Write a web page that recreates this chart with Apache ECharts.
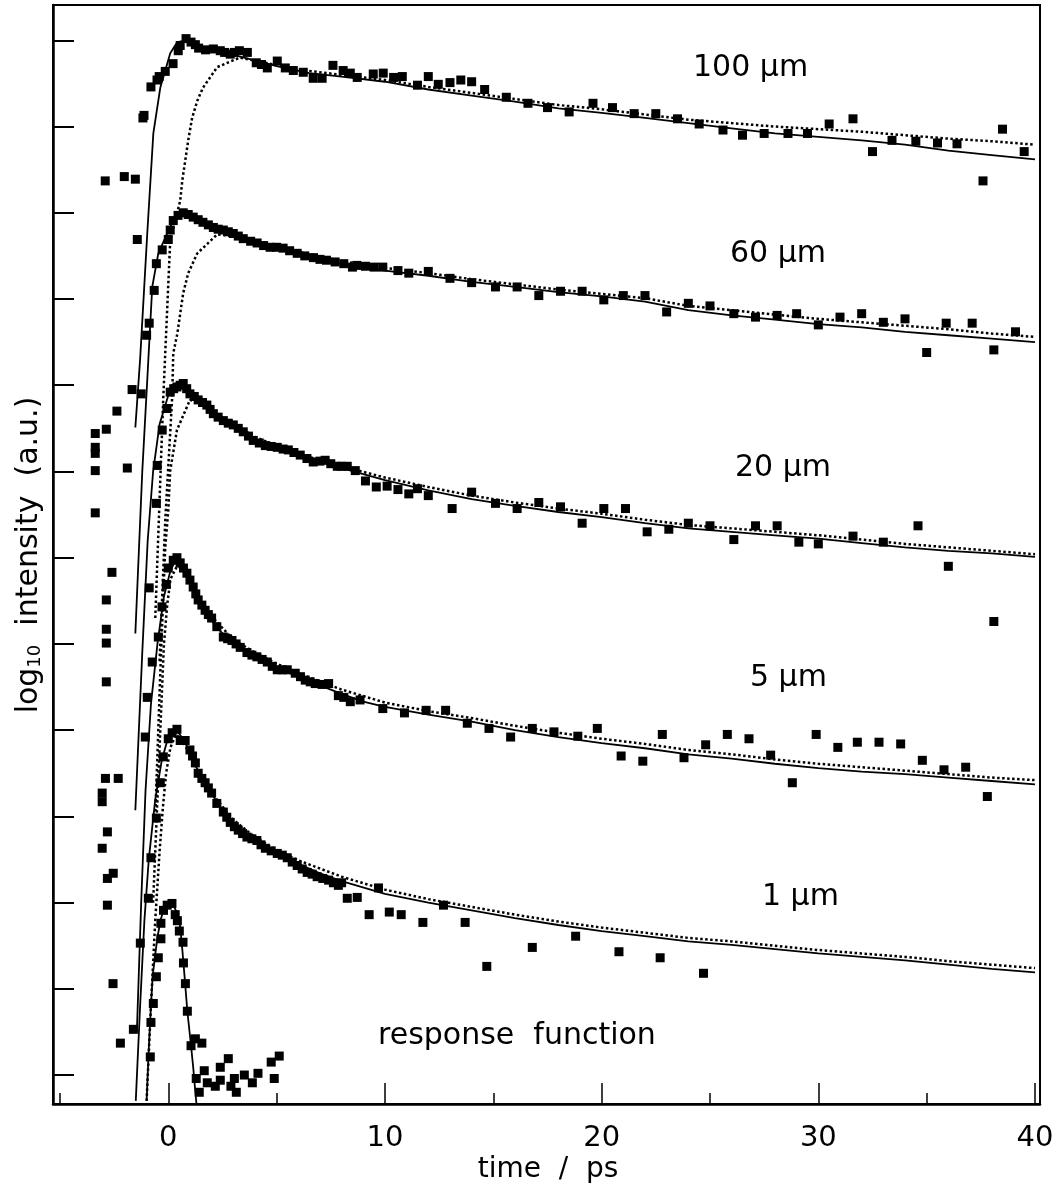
<!DOCTYPE html>
<html><head><meta charset="utf-8">
<script src="https://cdn.jsdelivr.net/npm/echarts@6/dist/echarts.min.js"></script>
<style>html,body{margin:0;padding:0;background:#fff}#c{width:1063px;height:1191px}</style>
</head><body><div id="c"></div>
<script>
// axis ticks
const xTicksMajor = [0, 10, 20, 30, 40];
const xTicksMinor = [-5, 5, 15, 25, 35];
const yTicks = [0, 1, 2, 3, 4, 5, 6, 7, 8, 9, 10, 11, 12];
const curveLabels = ['100 µm', '60 µm', '20 µm', '5 µm', '1 µm', 'response  function'];
const xTitle = 'time  /  ps';

// ---- 100 µm ----
const data100 = [[-2.91,10.37],[-2.03,10.42],[-1.52,10.39],[-1.17,11.1],[-1.12,11.13],[-0.8,11.46],[-0.52,11.54],[-0.42,11.58],[-0.14,11.64],[0.22,11.73],[0.46,11.88],[0.55,11.94],[0.82,12.02],[1.05,11.98],[1.25,11.95],[1.4,11.91],[1.72,11.89],[2.08,11.9],[2.4,11.88],[2.6,11.86],[2.86,11.84],[3.05,11.86],[3.28,11.88],[3.65,11.86],[4.06,11.74],[4.3,11.72],[4.57,11.68],[5.03,11.76],[5.4,11.68],[5.77,11.65],[6.23,11.63],[6.69,11.56],[7.1,11.56],[7.6,11.71],[8.07,11.65],[8.4,11.62],[8.72,11.57],[9.46,11.61],[9.92,11.62],[10.4,11.57],[10.8,11.58],[11.5,11.48],[12.0,11.58],[12.46,11.49],[13.0,11.51],[13.5,11.54],[14.0,11.52],[14.6,11.43],[15.6,11.34],[16.6,11.27],[17.5,11.22],[18.5,11.17],[19.6,11.27],[20.5,11.22],[21.5,11.15],[22.5,11.15],[23.5,11.09],[24.5,11.03],[25.6,10.96],[26.5,10.9],[27.5,10.92],[28.6,10.92],[29.5,10.92],[30.5,11.03],[31.6,11.09],[32.5,10.71],[33.4,10.84],[34.5,10.83],[35.5,10.81],[36.4,10.8],[37.6,10.37],[38.5,10.97],[39.5,10.71]];
const fit100 = [[-1.52,7.51],[-1.3,8.3],[-0.97,9.76],[-0.69,10.92],[-0.37,11.45],[0.09,11.85],[0.42,11.98],[0.8,12.0],[1.5,11.93],[2.5,11.86],[3.5,11.8],[5,11.7],[6.5,11.62],[8,11.58],[10,11.52],[12,11.43],[14,11.36],[16,11.29],[18,11.21],[20,11.16],[22,11.1],[24,11.04],[26,10.98],[28,10.92],[30,10.88],[32,10.84],[34,10.79],[36,10.72],[38,10.67],[40,10.62]];
const dot100 = [[-0.6,5.3],[-0.23,7.86],[0.09,9.68],[0.55,10.14],[0.65,10.38],[0.78,10.6],[0.92,10.84],[1.1,11.1],[1.34,11.3],[1.6,11.45],[2.26,11.69],[3.3,11.8],[4.5,11.74],[6,11.66],[8,11.6],[10,11.54],[12,11.46],[14,11.39],[16,11.32],[18,11.25],[20,11.2],[22,11.14],[24,11.08],[26,11.04],[28,11.0],[30,10.97],[32,10.94],[34,10.9],[36,10.86],[38,10.83],[40,10.79]];

// ---- 60 µm ----
const data60 = [[-1.43,9.69],[-1.0,8.58],[-0.88,8.72],[-0.65,9.1],[-0.55,9.41],[-0.28,9.57],[0.0,9.69],[0.09,9.8],[0.23,9.91],[0.45,9.97],[0.69,10.0],[0.92,9.98],[1.15,9.95],[1.38,9.92],[1.6,9.89],[1.85,9.86],[2.08,9.83],[2.3,9.81],[2.54,9.8],[2.77,9.78],[3.0,9.76],[3.23,9.73],[3.46,9.7],[3.8,9.67],[4.1,9.65],[4.4,9.62],[4.7,9.6],[5.0,9.6],[5.3,9.59],[5.6,9.56],[5.95,9.53],[6.3,9.5],[6.7,9.48],[7.0,9.46],[7.3,9.45],[7.7,9.43],[8.1,9.41],[8.5,9.37],[8.7,9.39],[9.1,9.38],[9.5,9.37],[9.9,9.37],[10.6,9.33],[11.1,9.3],[12.0,9.32],[13.0,9.24],[14.0,9.19],[15.1,9.14],[16.1,9.14],[17.1,9.04],[18.1,9.09],[19.1,9.09],[20.1,8.99],[21.0,9.04],[22.0,9.04],[23.0,8.85],[24.0,8.95],[25.0,8.92],[26.1,8.83],[27.1,8.79],[28.1,8.81],[29.0,8.83],[30.0,8.7],[31.0,8.79],[32.0,8.83],[33.0,8.73],[34.0,8.77],[35.0,8.38],[35.9,8.72],[37.1,8.72],[38.1,8.41],[39.1,8.62]];
const fit60 = [[-1.52,5.12],[-1.2,7.0],[-0.97,8.06],[-0.74,9.14],[-0.46,9.53],[-0.05,9.76],[0.23,9.91],[0.65,10.0],[1.5,9.9],[2.5,9.8],[3.5,9.7],[5,9.59],[6.5,9.49],[8,9.41],[10,9.33],[12,9.27],[14,9.2],[16,9.14],[18,9.08],[20,9.03],[22,8.97],[24,8.87],[26,8.81],[28,8.76],[30,8.71],[32,8.67],[34,8.62],[36,8.58],[38,8.54],[40,8.5]];
const dot60 = [[-0.4,4.8],[-0.14,6.43],[0.1,7.5],[0.18,7.86],[0.23,8.37],[0.42,8.6],[0.55,8.83],[0.69,9.07],[0.92,9.3],[1.34,9.53],[2.26,9.75],[3.3,9.72],[4.5,9.64],[6.5,9.52],[8,9.44],[10,9.36],[12,9.3],[14,9.23],[16,9.17],[18,9.11],[20,9.06],[22,9.01],[24,8.92],[26,8.87],[28,8.82],[30,8.77],[32,8.73],[34,8.69],[36,8.65],[38,8.6],[40,8.56]];

// ---- 20 µm ----
const data20 = [[-3.37,7.44],[-3.37,7.28],[-3.37,7.21],[-3.37,7.01],[-3.37,6.52],[-2.86,7.49],[-2.37,7.7],[-1.89,7.04],[-1.67,7.95],[-1.25,7.9],[-0.55,6.63],[-0.51,7.07],[-0.28,7.48],[-0.06,7.73],[0.09,7.92],[0.25,7.96],[0.4,7.98],[0.55,8.0],[0.69,8.02],[0.85,7.96],[1.0,7.9],[1.2,7.87],[1.38,7.83],[1.58,7.8],[1.78,7.77],[1.93,7.72],[2.08,7.67],[2.3,7.63],[2.54,7.59],[2.77,7.56],[3.0,7.54],[3.23,7.5],[3.46,7.46],[3.7,7.41],[3.92,7.36],[4.2,7.33],[4.48,7.3],[4.75,7.29],[5.03,7.28],[5.3,7.26],[5.54,7.25],[5.8,7.22],[6.09,7.19],[6.4,7.15],[6.69,7.11],[7.0,7.12],[7.24,7.13],[7.5,7.09],[7.8,7.06],[8.0,7.06],[8.26,7.06],[8.63,7.01],[9.1,6.89],[9.6,6.82],[10.1,6.83],[10.6,6.79],[11.1,6.74],[11.5,6.8],[12.0,6.72],[13.1,6.57],[14.0,6.76],[15.1,6.63],[16.1,6.57],[17.1,6.64],[18.1,6.59],[19.1,6.4],[20.1,6.57],[21.1,6.57],[22.1,6.3],[23.1,6.33],[24.0,6.4],[25.0,6.37],[26.1,6.21],[27.1,6.37],[28.1,6.37],[29.1,6.18],[30.0,6.16],[31.6,6.25],[33.0,6.18],[34.6,6.37],[36.0,5.9],[38.1,5.26]];
const fit20 = [[-1.52,3.07],[-1.2,4.9],[-0.95,6.2],[-0.7,7.0],[-0.4,7.55],[0,7.88],[0.5,8.0],[1.0,7.92],[1.5,7.8],[2,7.69],[2.5,7.6],[3,7.53],[4,7.38],[5,7.28],[6,7.19],[7,7.11],[8,7.04],[9,6.97],[10,6.9],[12,6.78],[14,6.68],[16,6.6],[18,6.53],[20,6.47],[22,6.4],[24,6.34],[26,6.3],[28,6.26],[30,6.22],[32,6.17],[34,6.12],[36,6.08],[38,6.05],[40,6.01]];
const dot20 = [[-0.6,3.0],[-0.35,4.8],[-0.14,6.12],[0,6.55],[0.09,7.01],[0.4,7.48],[1.0,7.83],[1.6,7.78],[2,7.7],[3,7.56],[4,7.4],[5,7.3],[6,7.21],[7,7.13],[8,7.06],[10,6.93],[12,6.82],[14,6.72],[16,6.64],[18,6.57],[20,6.51],[22,6.44],[24,6.38],[26,6.34],[28,6.3],[30,6.26],[32,6.21],[34,6.16],[36,6.12],[38,6.08],[40,6.04]];

// ---- 5 µm ----
const data5 = [[-2.6,5.83],[-2.86,5.51],[-2.86,5.17],[-2.86,5.01],[-2.86,4.56],[-0.88,5.65],[-1.06,3.92],[-0.97,4.38],[-0.74,4.79],[-0.46,5.08],[-0.29,5.43],[-0.09,5.69],[0.0,5.88],[0.23,5.97],[0.4,6.0],[0.55,5.94],[0.7,5.88],[0.86,5.82],[1.0,5.74],[1.15,5.66],[1.27,5.58],[1.38,5.51],[1.55,5.45],[1.7,5.39],[1.85,5.34],[2.0,5.3],[2.24,5.2],[2.54,5.08],[2.74,5.06],[2.94,5.04],[3.13,5.0],[3.32,4.96],[3.63,4.9],[3.86,4.87],[4.09,4.85],[4.33,4.82],[4.57,4.79],[4.8,4.74],[5.03,4.7],[5.26,4.7],[5.49,4.7],[5.86,4.66],[6.1,4.62],[6.32,4.58],[6.55,4.56],[6.78,4.54],[7.1,4.53],[7.4,4.54],[7.85,4.4],[8.1,4.38],[8.4,4.33],[8.85,4.35],[9.9,4.25],[10.9,4.2],[11.9,4.23],[12.8,4.23],[13.8,4.08],[14.8,4.02],[15.8,3.92],[16.8,4.02],[17.8,3.98],[18.9,3.93],[19.8,4.02],[20.9,3.7],[21.9,3.64],[22.8,3.95],[23.8,3.68],[24.8,3.83],[25.8,3.95],[26.8,3.9],[27.8,3.71],[28.8,3.39],[29.9,3.95],[30.9,3.8],[31.8,3.86],[32.8,3.86],[33.8,3.84],[34.8,3.65],[35.8,3.54],[36.8,3.57],[37.8,3.23]];
const fit5 = [[-1.45,0.5],[-1.25,2.0],[-1.05,3.3],[-0.8,4.3],[-0.5,5.0],[-0.2,5.55],[0.1,5.85],[0.4,6.0],[0.8,5.85],[1.2,5.6],[1.6,5.42],[2,5.27],[2.5,5.12],[3,5.0],[4,4.85],[5,4.72],[6,4.62],[7,4.52],[8,4.42],[9,4.33],[10,4.27],[12,4.18],[14,4.1],[16,4.0],[18,3.92],[20,3.85],[22,3.79],[24,3.72],[26,3.67],[28,3.61],[30,3.56],[32,3.52],[34,3.49],[36,3.45],[38,3.41],[40,3.37]];
const dot5 = [[-0.7,2.0],[-0.4,3.8],[-0.2,5.0],[-0.05,5.45],[0.1,5.75],[0.4,5.9],[0.7,5.88],[1.0,5.75],[1.5,5.5],[2,5.32],[3,5.05],[4,4.9],[5,4.77],[6,4.66],[8,4.47],[10,4.32],[12,4.22],[14,4.14],[16,4.05],[18,3.97],[20,3.9],[22,3.84],[24,3.77],[26,3.72],[28,3.66],[30,3.61],[32,3.57],[34,3.53],[36,3.49],[38,3.45],[40,3.42]];

// ---- 1 µm ----
const data1 = [[-2.9,3.44],[-2.31,3.44],[-3.05,3.27],[-3.05,3.17],[-2.81,2.82],[-3.05,2.63],[-2.81,2.28],[-2.54,2.34],[-2.81,1.97],[-1.29,1.53],[-0.92,2.05],[-0.8,2.52],[-0.55,2.98],[-0.37,3.39],[-0.23,3.69],[0.0,3.9],[0.18,3.97],[0.4,4.01],[0.55,3.88],[0.78,3.88],[1.0,3.77],[1.12,3.7],[1.25,3.62],[1.38,3.5],[1.55,3.44],[1.7,3.39],[1.85,3.33],[2.0,3.27],[2.24,3.15],[2.54,3.05],[2.7,2.99],[2.86,2.93],[3.05,2.88],[3.23,2.84],[3.43,2.8],[3.63,2.76],[3.86,2.74],[4.09,2.72],[4.28,2.67],[4.48,2.63],[4.75,2.6],[5.03,2.57],[5.26,2.55],[5.49,2.52],[5.72,2.47],[5.95,2.43],[6.18,2.39],[6.41,2.35],[6.64,2.33],[6.87,2.3],[7.13,2.28],[7.4,2.26],[7.62,2.23],[7.85,2.2],[8.0,2.23],[8.26,2.05],[8.72,2.06],[9.27,1.86],[9.7,2.17],[10.2,1.89],[10.75,1.86],[11.75,1.77],[12.7,1.97],[13.7,1.77],[14.7,1.26],[16.8,1.48],[18.8,1.61],[20.8,1.43],[22.7,1.36],[24.7,1.18]];
const fit1 = [[-1.5,-0.3],[-1.3,0.8],[-1.1,1.8],[-0.9,2.5],[-0.6,3.2],[-0.3,3.65],[0,3.92],[0.4,4.0],[0.8,3.85],[1.2,3.62],[1.6,3.42],[2,3.26],[2.5,3.08],[3,2.93],[4,2.72],[5,2.57],[6,2.45],[7,2.34],[8,2.25],[10,2.1],[12,2.0],[14,1.91],[16,1.82],[18,1.74],[20,1.67],[22,1.61],[24,1.55],[26,1.51],[28,1.46],[30,1.41],[32,1.37],[34,1.33],[36,1.28],[38,1.23],[40,1.19]];
const dot1 = [[-1.0,-0.3],[-0.8,0.8],[-0.6,1.8],[-0.4,2.6],[-0.25,3.1],[-0.1,3.5],[0.1,3.8],[0.35,3.95],[0.6,3.9],[1.0,3.72],[1.5,3.45],[2,3.27],[3,2.96],[4,2.76],[5,2.61],[6,2.49],[8,2.3],[10,2.15],[12,2.04],[14,1.95],[16,1.86],[18,1.78],[20,1.71],[22,1.65],[24,1.59],[26,1.55],[28,1.5],[30,1.45],[32,1.41],[34,1.37],[36,1.32],[38,1.28],[40,1.24]];

// ---- response function ----
const dataResp = [[-2.55,1.06],[-2.21,0.37],[-1.61,0.53],[-0.83,0.21],[-0.8,0.61],[-0.69,0.83],[-0.55,1.14],[-0.46,1.36],[-0.34,1.58],[-0.34,1.76],[-0.22,1.91],[-0.05,1.97],[0.17,1.99],[0.32,1.86],[0.42,1.79],[0.51,1.67],[0.68,1.54],[0.7,1.3],[0.79,1.06],[0.88,0.74],[1.05,0.34],[1.25,0.42],[1.55,0.37],[1.29,-0.04],[1.43,-0.2],[1.66,0.05],[1.8,-0.09],[2.17,-0.13],[2.4,0.09],[2.4,-0.06],[2.77,0.19],[2.89,-0.13],[3.05,-0.04],[3.14,-0.2],[3.51,0.0],[3.88,-0.09],[4.14,0.02],[4.75,0.15],[4.89,-0.04],[5.12,0.22]];
const fitResp = [[-1.0,-0.3],[-0.9,0.3],[-0.8,0.8],[-0.72,1.15],[-0.6,1.4],[-0.5,1.6],[-0.35,1.8],[-0.2,1.93],[0,1.99],[0.2,1.99],[0.4,1.88],[0.55,1.72],[0.65,1.45],[0.75,1.15],[0.88,0.74],[1.05,0.34],[1.15,0.09],[1.25,-0.2],[1.3,-0.33]];

const FONT = '"DejaVu Sans", "Liberation Sans", sans-serif';

function scat(d) {
  return { type: 'scatter', data: d, symbol: 'rect', symbolSize: 9, itemStyle: { color: '#000', opacity: 1 }, z: 5, silent: true };
}
function line(d, dotted) {
  return { type: 'line', data: d, symbol: 'none', showSymbol: false, silent: true, z: dotted ? 3 : 4,
    lineStyle: { color: '#000', opacity: 1, width: dotted ? 2.5 : 1.8, type: dotted ? [2.5, 2.5] : 'solid' } };
}

const series = [];
[[data100, fit100, dot100], [data60, fit60, dot60], [data20, fit20, dot20], [data5, fit5, dot5], [data1, fit1, dot1]]
  .forEach(([d, f, o]) => { series.push(line(o, true), line(f, false), scat(d)); });
series.push(line(fitResp, false), scat(dataResp));

const labelPos = [[693, 68], [730, 254], [735, 468], [750, 678], [762, 897], [378, 1036]];

const graphic = curveLabels.map((t, i) => ({
  type: 'text', x: labelPos[i][0], y: labelPos[i][1], silent: true,
  style: { text: t, fill: '#000', font: '30px ' + FONT, textAlign: 'left', textVerticalAlign: 'middle' }
}));
graphic.push({
  type: 'text', x: 548, y: 1170, silent: true,
  style: { text: xTitle, fill: '#000', font: '28px ' + FONT, textAlign: 'center', textVerticalAlign: 'middle' }
});
graphic.push({
  type: 'text', x: 29, y: 555, rotation: Math.PI / 2, silent: true,
  style: {
    text: '{a|log}{b|10}{a|  intensity  (a.u.)}', fill: '#000', textAlign: 'center', textVerticalAlign: 'middle',
    rich: { a: { fontSize: 30, fontFamily: FONT, fill: '#000' }, b: { fontSize: 18, fontFamily: FONT, fill: '#000', verticalAlign: 'bottom' } }
  }
});

const chart = echarts.init(document.getElementById('c'), null, { renderer: 'canvas' });
chart.setOption({
  animation: false,
  backgroundColor: '#fff',
  textStyle: { fontFamily: FONT },
  grid: { left: 53, right: 23, top: 5, bottom: 87, show: true, borderColor: '#000', borderWidth: 2, backgroundColor: 'transparent' },
  xAxis: [{
    type: 'value', min: -5.32, max: 40.23, position: 'bottom',
    axisLine: { show: true, onZero: false, lineStyle: { color: '#000', width: 2.5 } },
    axisTick: { show: true, inside: true, length: 21, customValues: xTicksMajor, lineStyle: { color: '#000', width: 1.5 } },
    axisLabel: { show: true, customValues: xTicksMajor, color: '#000', fontFamily: FONT, fontSize: 29, margin: 20 },
    splitLine: { show: false }
  }, {
    type: 'value', min: -5.32, max: 40.23, position: 'bottom',
    axisLine: { show: false, onZero: false },
    axisTick: { show: true, inside: true, length: 11, customValues: xTicksMinor, lineStyle: { color: '#000', width: 1.5 } },
    axisLabel: { show: false },
    splitLine: { show: false }
  }],
  yAxis: {
    type: 'value', min: -0.336, max: 12.41, position: 'left',
    axisLine: { show: true, onZero: false, lineStyle: { color: '#000', width: 2.5 } },
    axisTick: { show: true, inside: true, length: 21, customValues: yTicks, lineStyle: { color: '#000', width: 2 } },
    axisLabel: { show: false },
    splitLine: { show: false }
  },
  series: series,
  graphic: graphic
});
</script>
</body></html>
